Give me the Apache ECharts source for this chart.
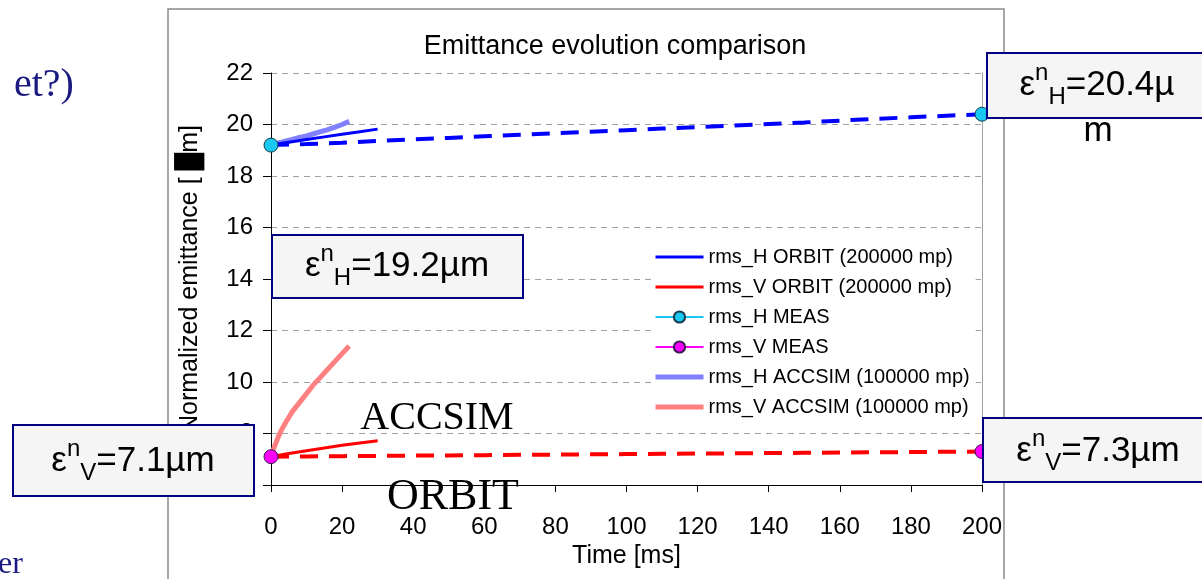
<!DOCTYPE html>
<html><head><meta charset="utf-8">
<script src="https://cdn.jsdelivr.net/npm/echarts@6/dist/echarts.min.js"></script>
<style>html,body{margin:0;padding:0;background:#fff}#c{width:1202px;height:579px}</style>
</head><body><div id="c"></div>
<script>
// ---- data ----
const xTicks = [0,20,40,60,80,100,120,140,160,180,200];
const yTicks = [6,8,10,12,14,16,18,20,22];

const orbitT = [0,5,10,15,20,25,30];
const hOrbit = [19.2,19.31,19.42,19.52,19.62,19.72,19.82];
const vOrbit = [7.1,7.22,7.33,7.44,7.54,7.63,7.72];

const longT = [0,10,20,30,40,50,60,70,80,90,100,110,120,130,140,150,160,170,180,190,200];
const hOrbitLong = [19.2,19.24,19.29,19.36,19.42,19.48,19.54,19.6,19.66,19.72,19.78,19.84,19.9,19.96,20.02,20.08,20.15,20.22,20.28,20.34,20.4];
const vOrbitLong = [7.1,7.11,7.12,7.13,7.14,7.15,7.16,7.17,7.18,7.19,7.2,7.21,7.22,7.23,7.24,7.25,7.26,7.27,7.28,7.29,7.3];

const measT = [0,100,200];
const hMeas = [19.2,null,20.4];
const vMeas = [7.1,null,7.3];

const accT = [0,1,2,3,4,6,8,10,12,14,16,18,20,22];
const hAcc = [19.2,19.24,19.28,19.31,19.35,19.42,19.5,19.56,19.64,19.72,19.8,19.9,20.0,20.12];
const vAcc = [7.1,7.5,7.85,8.15,8.4,8.85,9.2,9.55,9.9,10.2,10.5,10.8,11.1,11.4];

const names = ['rms_H ORBIT (200000 mp)','rms_V ORBIT (200000 mp)','rms_H MEAS','rms_V MEAS','rms_H ACCSIM (100000 mp)','rms_V ACCSIM (100000 mp)'];

function pairs(t, v){ return t.map((x,i)=> v[i]==null ? [x,'-'] : [x, v[i]]); }

const chart = echarts.init(document.getElementById('c'));
const F = 'Liberation Sans, Arial, sans-serif';
const SERIF = 'Liberation Serif, Times New Roman, serif';

function emitText(sub, val, x, y){
  return {type:'text', x:x, y:y, z:100, style:{
    text:'{e|ε}{s|n}{b|'+sub+'}{e|='+val+'}',
    align:'center', verticalAlign:'middle',
    rich:{
      e:{fontSize:35, fontFamily:F, lineHeight:48, fill:'#000'},
      s:{fontSize:24, fontFamily:F, verticalAlign:'top', lineHeight:24, fill:'#000'},
      b:{fontSize:24, fontFamily:F, verticalAlign:'bottom', lineHeight:24, fill:'#000'}
    }
  }};
}
function box(x,y,w,h){
  return {type:'rect', z:99, shape:{x:x,y:y,width:w,height:h}, style:{fill:'#f5f5f5', stroke:'#000080', lineWidth:2}};
}
const hide = {color:'rgba(0,0,0,0)', borderColor:'rgba(0,0,0,0)', borderWidth:0};

chart.setOption({
  animation:false,
  backgroundColor:'#fff',
  title:{text:'Emittance evolution comparison', left:610, top:28, textAlign:'center',
    textStyle:{fontFamily:F, fontSize:27, fontWeight:'normal', color:'#000'}},
  grid:{left:271, top:73, right:220, bottom:94},
  xAxis:{type:'value', min:0, max:200, interval:20,
    name:'Time [ms]', nameLocation:'middle', nameGap:56,
    nameTextStyle:{fontFamily:F, fontSize:25, color:'#000'},
    axisLine:{onZero:false, lineStyle:{color:'#000', width:1}},
    axisTick:{show:true, length:7, lineStyle:{color:'#000'}},
    axisLabel:{fontFamily:F, fontSize:24, color:'#000', margin:30},
    splitLine:{show:false}},
  yAxis:[{type:'value', min:6, max:22, interval:2,
    name:'Normalized emittance [ \u2588m]', nameLocation:'middle', nameGap:68,
    nameTextStyle:{fontFamily:F, fontSize:25, color:'#000'},
    axisLine:{show:true, lineStyle:{color:'#000', width:1}},
    axisTick:{show:true, length:8, lineStyle:{color:'#000'}},
    axisLabel:{fontFamily:F, fontSize:24, color:'#000', margin:18,
      formatter:v=> yTicks.includes(v) ? String(v) : ''},
    splitLine:{show:true, lineStyle:{color:'#a0a0a0', type:[6,5], width:1}}},
   {type:'value', min:6, max:22, interval:2, position:'right',
    axisLine:{show:true, lineStyle:{color:'#a0a0a0', width:1}},
    axisTick:{show:false}, axisLabel:{show:false}, splitLine:{show:false}}],
  legend:{orient:'vertical', left:651, top:243,
    data:[
      {name:names[0], itemStyle:hide, lineStyle:{width:3}},
      {name:names[1], itemStyle:hide, lineStyle:{width:3}},
      {name:names[2]},
      {name:names[3]},
      {name:names[4], itemStyle:hide, lineStyle:{width:5}},
      {name:names[5], itemStyle:hide, lineStyle:{width:5}}
    ],
    itemWidth:48, itemHeight:14, itemGap:10, padding:[4,6,4,2],
    backgroundColor:'#fff',
    textStyle:{fontFamily:F, fontSize:20, lineHeight:20, color:'#000'}},
  series:[
    {name:'rms_H ORBIT long', type:'line', data:pairs(longT,hOrbitLong), symbol:'none', z:3,
      lineStyle:{color:'#0000ff', width:4, type:[18,11]}},
    {name:'rms_V ORBIT long', type:'line', data:pairs(longT,vOrbitLong), symbol:'none', z:3,
      lineStyle:{color:'#ff0000', width:4, type:[18,11]}},
    {name:names[4], type:'line', data:pairs(accT,hAcc), symbol:'none', z:2,
      itemStyle:{color:'#8080ff'}, lineStyle:{color:'#8080ff', width:5}},
    {name:names[5], type:'line', data:pairs(accT,vAcc), symbol:'none', z:2,
      itemStyle:{color:'#ff8080'}, lineStyle:{color:'#ff8080', width:5}},
    {name:names[0], type:'line', data:pairs(orbitT,hOrbit), symbol:'none', z:4,
      itemStyle:{color:'#0000ff'}, lineStyle:{color:'#0000ff', width:3}},
    {name:names[1], type:'line', data:pairs(orbitT,vOrbit), symbol:'none', z:4,
      itemStyle:{color:'#ff0000'}, lineStyle:{color:'#ff0000', width:3}},
    {name:names[2], type:'line', data:pairs(measT,hMeas), symbol:'circle', symbolSize:14, z:6,
      connectNulls:false,
      itemStyle:{color:'#19c8f0', borderColor:'#1a3a50', borderWidth:1},
      lineStyle:{color:'#19c8f0', width:1}},
    {name:names[3], type:'line', data:pairs(measT,vMeas), symbol:'circle', symbolSize:14, z:6,
      connectNulls:false,
      itemStyle:{color:'#ff00ff', borderColor:'#3a1a50', borderWidth:1},
      lineStyle:{color:'#ff00ff', width:1}}
  ],
  graphic:[
    {type:'rect', z:-1, silent:true, shape:{x:168,y:9,width:836,height:620}, style:{fill:'none', stroke:'#8a8a8a', lineWidth:1.5}},
    {type:'text', x:14, y:85, style:{text:'et?)', font:'40px '+SERIF, fill:'#1a1a80', verticalAlign:'middle'}},
    {type:'text', x:-2, y:565, style:{text:'er', font:'32px '+SERIF, fill:'#1a1a80', verticalAlign:'middle'}},
    {type:'text', x:437, y:418, z:50, style:{text:'ACCSIM', font:'40px '+SERIF, fill:'#000', align:'center', verticalAlign:'middle'}},
    {type:'text', x:453, y:497, z:50, style:{text:'ORBIT', font:'44px '+SERIF, fill:'#000', align:'center', verticalAlign:'middle'}},
    box(272,235,251,63), emitText('H','19.2µm',397,266),
    box(13,425,241,71), emitText('V','7.1µm',133,461),
    box(987,53,230,65), emitText('H','20.4µ',1097,85),
    {type:'text', x:1098, y:131, z:100, style:{text:'m', font:'35px '+F, fill:'#000', align:'center', verticalAlign:'middle'}},
    box(983,418,230,64), emitText('V','7.3µm',1098,451)
  ]
});
</script></body></html>
